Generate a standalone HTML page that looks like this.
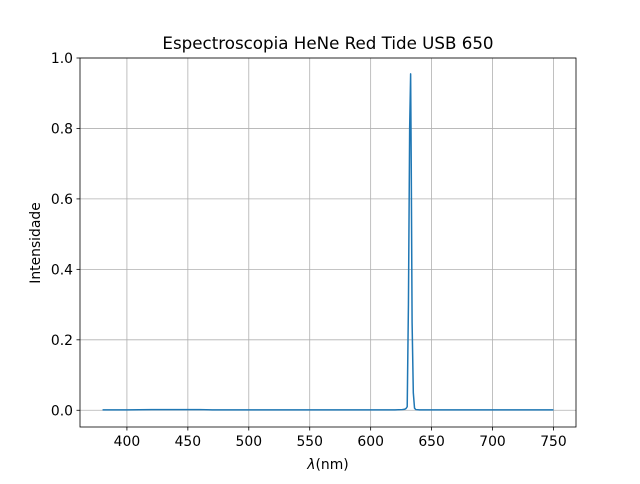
<!DOCTYPE html>
<html><head><meta charset="utf-8"><style>
body{margin:0;background:#fff;font-family:"DejaVu Sans","Liberation Sans",sans-serif}
text{font-family:"DejaVu Sans","Liberation Sans",sans-serif}
</style></head><body>
<svg id="c" width="640" height="480" xmlns="http://www.w3.org/2000/svg"></svg>
<script>
const wavelengths=[380,400,420,440,460,470,480,500,520,540,560,580,600,620,626,628,629,630,631,632,632.8,633.3,634,635,636,637,640,660,680,700,720,750];
const intensities=[0.001,0.001,0.002,0.002,0.002,0.001,0.001,0.001,0.001,0.001,0.001,0.001,0.001,0.001,0.002,0.003,0.005,0.01,0.3,0.8,0.955,0.7,0.25,0.05,0.006,0.002,0.001,0.001,0.001,0.001,0.001,0.001];
const xTicks=[400,450,500,550,600,650,700,750];
const yTicks=[0,0.2,0.4,0.6,0.8,1.0];
const yTickLabels=["0.0","0.2","0.4","0.6","0.8","1.0"];
const L=80,R=576,T=58,B=427,xmin=361.5,xmax=768.5,ymin=-0.0475,ymax=1.0;
const sx=v=>L+(v-xmin)/(xmax-xmin)*(R-L);
const sy=v=>B-(v-ymin)/(ymax-ymin)*(B-T);
const svg=document.getElementById('c');const NS='http://www.w3.org/2000/svg';
function mk(t,a,txt){const e=document.createElementNS(NS,t);for(const k in a)e.setAttribute(k,a[k]);if(txt!==undefined)e.textContent=txt;svg.appendChild(e);return e;}
xTicks.forEach(v=>{const x=sx(v);
const g=mk('line',{x1:x,x2:x,y1:T,y2:B,stroke:'#b0b0b0','stroke-width':0.8});


mk('line',{x1:x,x2:x,y1:B,y2:B+3.5,stroke:'#000','stroke-width':0.8});
const t=mk('text',{x:x,y:B+19,'font-size':13.9,'text-anchor':'middle'},String(v));

});
yTicks.forEach((v,i)=>{const y=sy(v);
const g=mk('line',{x1:L,x2:R,y1:y,y2:y,stroke:'#b0b0b0','stroke-width':0.8});


mk('line',{x1:L-3.5,x2:L,y1:y,y2:y,stroke:'#000','stroke-width':0.8});
const t=mk('text',{x:L-7,y:y+5,'font-size':13.9,'text-anchor':'end'},yTickLabels[i]);

});
const p=mk('polyline',{points:wavelengths.map((w,i)=>sx(w)+','+sy(intensities[i])).join(' '),fill:'none',stroke:'#1f77b4','stroke-width':1.5,'stroke-linejoin':'round'});


const f=mk('rect',{x:L,y:T,width:R-L,height:B-T,fill:'none',stroke:'#000','stroke-width':0.8});


const ti=mk('text',{x:328,y:49,'font-size':16.7,'text-anchor':'middle'},'Espectroscopia HeNe Red Tide USB 650');


const xl=mk('text',{x:328,y:469,'font-size':13.9,'text-anchor':'middle'});
xl.innerHTML='<tspan font-style="italic">λ</tspan>(nm)';


const yl=mk('text',{x:0,y:0,'font-size':13.9,'text-anchor':'middle',transform:'translate(40,243) rotate(-90)'},'Intensidade');


</script>
</body></html>
